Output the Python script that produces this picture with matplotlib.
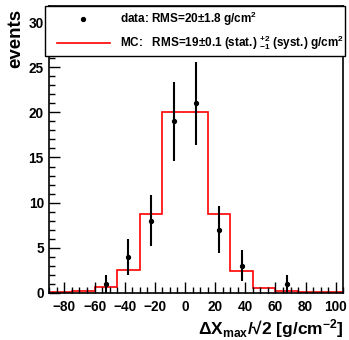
import matplotlib
matplotlib.use("Agg")
import matplotlib.pyplot as plt
from matplotlib.patches import Rectangle
from matplotlib.lines import Line2D
from matplotlib.ticker import MultipleLocator

plt.rcParams['font.family'] = ['Liberation Sans', 'DejaVu Sans']
plt.rcParams['font.weight'] = 'bold'
plt.rcParams['mathtext.fontset'] = 'custom'
plt.rcParams['mathtext.rm'] = 'Liberation Sans:bold'
plt.rcParams['mathtext.bf'] = 'Liberation Sans:bold'
plt.rcParams['mathtext.it'] = 'Liberation Sans:bold'
plt.rcParams['mathtext.default'] = 'bf'

# MC histogram, 13 bins of 15 g/cm^2
mc_edges = [-90, -75, -60, -45, -30, -15, 0, 15, 30, 45, 60, 75, 90, 105]
mc_counts = [0.1, 0.2, 0.6, 2.5, 8.7, 20, 20, 8.7, 2.4, 0.5, 0.2, 0.05, 0.05]

# data points
data_x = [-52.5, -37.5, -22.5, -7.5, 7.5, 22.5, 37.5, 67.5]
data_y = [1, 4, 8, 19, 21, 7, 3, 1]
data_err = [1, 2, 2.8, 4.4, 4.6, 2.6, 1.7, 1]

fig = plt.figure(figsize=(3.49, 3.40), dpi=100)
ax = fig.add_axes([0.1413, 0.139, 0.8424, 0.8433])

ax.stairs(mc_counts, mc_edges, color='red', lw=1.2)
ax.errorbar(data_x, data_y, yerr=data_err, fmt='o', color='black', ms=2.8,
            elinewidth=1.5, capsize=0)

ax.set_xlim(-90, 105)
ax.set_ylim(0, 31.8)
ax.xaxis.set_major_locator(MultipleLocator(20))
ax.xaxis.set_minor_locator(MultipleLocator(5))
ax.yaxis.set_major_locator(MultipleLocator(5))
ax.yaxis.set_minor_locator(MultipleLocator(1))
ax.tick_params(which='both', direction='in', top=False, right=False, width=1.0, labelsize=9.8)
ax.tick_params(which='major', length=8)
ax.tick_params(which='minor', length=4)
for lab in ax.get_yticklabels():
    lab.set_fontweight('bold')
ax.set_xticks([-80, -60, -40, -20, 0, 20, 40, 60, 80, 100])
ax.set_xticklabels(['\u221280', '\u221260', '\u221240', '\u221220', '0', '20', '40', '60', '80', '100'],
                   fontweight='bold')
ax.tick_params(axis='x', pad=5)
ax.tick_params(axis='y', pad=4)
for s in ax.spines.values():
    s.set_linewidth(1.2)

ax.set_ylabel('events', fontsize=13.5, fontweight='bold')
ax.yaxis.set_label_coords(-0.085, 0.99)
ax.yaxis.label.set_horizontalalignment('right')
ax.set_xlabel('\u0394X$_{max}$/\u221a2 [g/cm$^{-2}$]', fontsize=12.5, fontweight='bold')
ax.xaxis.set_label_coords(1.0, -0.085)
ax.xaxis.label.set_horizontalalignment('right')

# legend box drawn by hand
W, H = 349.0, 340.0
box = Rectangle((45 / W, 1 - 56 / H), 300 / W, 50 / H, transform=fig.transFigure,
                facecolor='white', edgecolor='black', lw=1.0, zorder=5)
fig.add_artist(box)
fig.add_artist(Line2D([83 / W], [1 - 19 / H], marker='o', ms=2.8, color='black',
                      transform=fig.transFigure, zorder=6))
fig.add_artist(Line2D([57 / W, 110 / W], [1 - 43 / H, 1 - 43 / H], color='red', lw=1.2,
                      transform=fig.transFigure, zorder=6))
fig.text(120 / W, 1 - 19 / H, 'data: RMS=20\u00b11.8 g/cm$^2$', fontsize=8.5,
         fontweight='bold', va='center', ha='left', zorder=6)
fig.text(120 / W, 1 - 43 / H, 'MC:   RMS=19\u00b10.1 (stat.) $^{+2}_{-1}$ (syst.) g/cm$^2$',
         fontsize=8.5, fontweight='bold', va='center', ha='left', zorder=6)

fig.savefig('out.png', dpi=100)
